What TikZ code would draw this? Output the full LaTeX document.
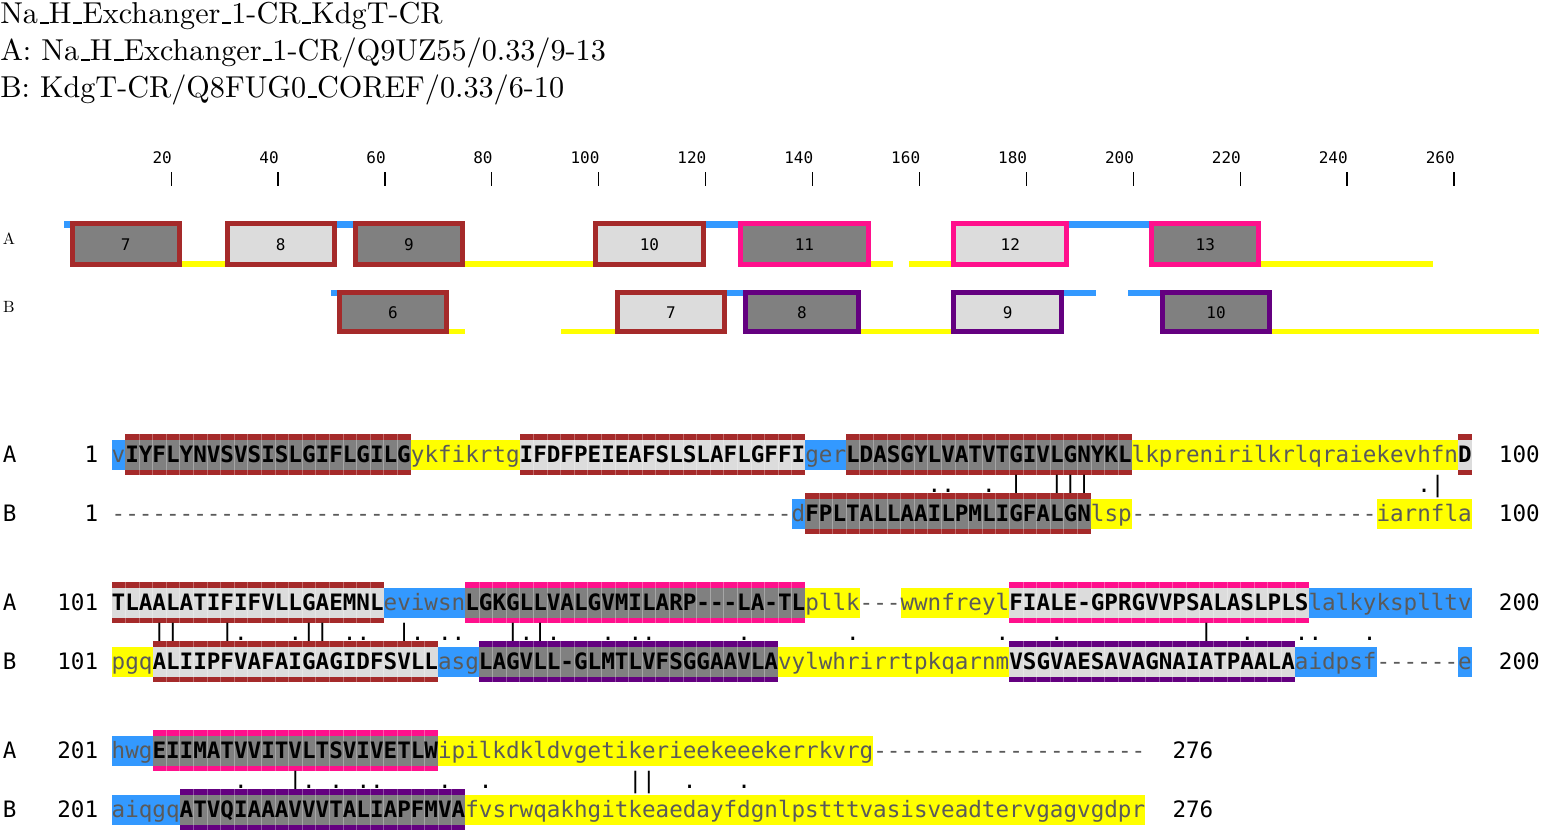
\documentclass[tikz,border=0pt]{standalone}
\usepackage{fontspec}
\newfontfamily\monof{DejaVu Sans Mono}
\newfontfamily\cmfont{lmroman10-regular.otf}
\definecolor{tmbrown}{RGB}{165,42,42}
\definecolor{tmpink}{RGB}{255,16,140}
\definecolor{tmpurple}{RGB}{100,0,128}
\definecolor{hlblue}{RGB}{51,153,255}
\definecolor{hlyellow}{RGB}{255,255,0}
\definecolor{tmdark}{RGB}{128,128,128}
\definecolor{tmlight}{RGB}{220,220,220}
\definecolor{lowtxt}{RGB}{90,90,90}
\newcommand\mfont{\monof\fontsize{16.94pt}{20pt}\selectfont}
\newcommand\us{\leavevmode\kern.06em\vbox{\hrule height .06em width .3em}}
\newcommand\dashes[1]{\ifnum#1>0 \hbox{-}\expandafter\dashes\expandafter{\the\numexpr#1-1\relax}\fi}
\tikzset{
  seqbase/.style={inner sep=0pt, outer sep=0pt, anchor=base west},
  lowseq/.style={seqbase, font=\mfont, text=lowtxt},
  capseq/.style={seqbase, font=\mfont\bfseries, text=black},
  markt/.style={seqbase, font=\mfont, text=black},
  numt/.style={inner sep=0pt, outer sep=0pt, font=\mfont, text=black},
  rulnum/.style={inner sep=0pt, font=\monof\fontsize{12pt}{14pt}\selectfont, anchor=base east},
  tmnum/.style={inner sep=0pt, font=\monof\fontsize{12pt}{14pt}\selectfont},
  trlab/.style={inner sep=0pt, font=\cmfont\fontsize{12.2pt}{14pt}\selectfont},
  ttl/.style={inner sep=0pt, anchor=base west, font=\cmfont\fontsize{22.65pt}{27pt}\selectfont},
  cellline/.style={draw=white, draw opacity=0.3, line width=0.45pt},
  tickl/.style={line width=0.9pt},
}
% alignment segments: name, yc, idx, len, colour, text
\newcommand\hlseg[6]{%
  \fill[#5] ({111.7+13.6*#3},{#2-15}) rectangle ({111.7+13.6*(#3+#4)},{#2+15});
  \node[lowseq] (#1) at ({111.7+13.6*#3},{#2+7.5}) {#6};}
% name, yc, idx, len, fill, band, text
\newcommand\tmseg[7]{%
  \fill[#6] ({111.7+13.6*#3},{#2-20.5}) rectangle ({111.7+13.6*(#3+#4)},{#2+20.5});
  \fill[#5] ({111.7+13.6*#3},{#2-15}) rectangle ({111.7+13.6*(#3+#4)},{#2+15});
  \ifnum#4>1\relax
    \pgfmathtruncatemacro\lastk{#4-1}
    \foreach \k in {1,...,\lastk}{\draw[cellline] ({111.7+13.6*(#3+\k)},{#2-20.5}) -- ({111.7+13.6*(#3+\k)},{#2+20.5});}
  \fi
  \node[capseq] (#1) at ({111.7+13.6*#3},{#2+7.5}) {#7};}
\newcommand\plseg[4]{\node[lowseq] (#1) at ({111.7+13.6*#3},{#2+7.5}) {#4};}
\newcommand\simmarks[3]{\foreach \i/\mk in {#3}{\node[markt] (#1\i) at ({111.7+13.6*\i},#2) {\mk};}}
% top track: from col, to col, y1, y2, colour
\newcommand\tbar[5]{\fill[#5] ({64.2+5.345*(#1-1)},#3) rectangle ({64.2+5.345*#2},#4);}
% name, from, to, ytop, ybot, fill, border, label
\newcommand\tbox[8]{%
  \draw[draw=#7, fill=#6, line width=3.75pt] ({64.2+5.345*(#2-1)+2.5},{#4+2.5}) rectangle ({64.2+5.345*#3-2.5},{#5-2.5});
  \node[tmnum] (#1) at ({64.2+5.345*((#2-1)+#3)/2},{(#4+#5)/2+1}) {#8};}
\begin{document}
\begin{tikzpicture}[x=0.75pt,y=-0.75pt]
\useasboundingbox (0,0) rectangle (1542,833);
% title
\node[ttl] (t1) at (0,23.5) {Na\us H\us Exchanger\us 1-CR\us KdgT-CR};
\node[ttl] (t2) at (0,60.5) {A: Na\us H\us Exchanger\us 1-CR/Q9UZ55/0.33/9-13};
\node[ttl] (t3) at (0,97.5) {B: KdgT-CR/Q8FUG0\us COREF/0.33/6-10};
% ruler
\foreach \p in {20,40,...,260}{
  \draw[tickl] ({64.2+5.345*\p},172) -- ({64.2+5.345*\p},186);
  \node[rulnum] (r\p) at ({64.2+5.345*\p+1},163) {\p};
}
% track labels
\node[trlab] (trA) at (9,238.5) {A};
\node[trlab] (trB) at (9,306.5) {B};
% track A
\tbar{1}{1}{221}{227.5}{hlblue}
\tbar{52}{54}{221}{227.5}{hlblue}
\tbar{121}{126}{221}{227.5}{hlblue}
\tbar{189}{203}{221}{227.5}{hlblue}
\tbar{23}{30}{260.5}{267}{hlyellow}
\tbar{76}{99}{260.5}{267}{hlyellow}
\tbar{152}{155}{260.5}{267}{hlyellow}
\tbar{159}{166}{260.5}{267}{hlyellow}
\tbar{225}{256}{260.5}{267}{hlyellow}
\tbox{tA7}{2}{22}{221}{267}{tmdark}{tmbrown}{7}
\tbox{tA8}{31}{51}{221}{267}{tmlight}{tmbrown}{8}
\tbox{tA9}{55}{75}{221}{267}{tmdark}{tmbrown}{9}
\tbox{tA10}{100}{120}{221}{267}{tmlight}{tmbrown}{10}
\tbox{tA11}{127}{151}{221}{267}{tmdark}{tmpink}{11}
\tbox{tA12}{167}{188}{221}{267}{tmlight}{tmpink}{12}
\tbox{tA13}{204}{224}{221}{267}{tmdark}{tmpink}{13}
% track B
\tbar{51}{51}{290}{295.5}{hlblue}
\tbar{125}{127}{290}{295.5}{hlblue}
\tbar{188}{193}{290}{295.5}{hlblue}
\tbar{200}{205}{290}{295.5}{hlblue}
\tbar{73}{75}{328.5}{334}{hlyellow}
\tbar{94}{103}{328.5}{334}{hlyellow}
\tbar{150}{166}{328.5}{334}{hlyellow}
\tbar{227}{276}{328.5}{334}{hlyellow}
\tbox{tB6}{52}{72}{290}{334}{tmdark}{tmbrown}{6}
\tbox{tB7}{104}{124}{290}{334}{tmlight}{tmbrown}{7}
\tbox{tB8}{128}{149}{290}{334}{tmdark}{tmpurple}{8}
\tbox{tB9}{167}{187}{290}{334}{tmlight}{tmpurple}{9}
\tbox{tB10}{206}{226}{290}{334}{tmdark}{tmpurple}{10}
% ---------- alignment row 1
\node[numt, anchor=base west] (la1) at ({111.7-13.6*8},462) {A};
\node[numt, anchor=base east] (na1) at ({111.7-13.6},462) {1};
\node[numt, anchor=base west] (ea1) at ({111.7+13.6*102},462) {100};
\hlseg{a1s1}{454.5}{0}{1}{hlblue}{v}
\tmseg{a1s2}{454.5}{1}{21}{tmdark}{tmbrown}{IYFLYNVSVSISLGIFLGILG}
\hlseg{a1s3}{454.5}{22}{8}{hlyellow}{ykfikrtg}
\tmseg{a1s4}{454.5}{30}{21}{tmlight}{tmbrown}{IFDFPEIEAFSLSLAFLGFFI}
\hlseg{a1s5}{454.5}{51}{3}{hlblue}{ger}
\tmseg{a1s6}{454.5}{54}{21}{tmdark}{tmbrown}{LDASGYLVATVTGIVLGNYKL}
\hlseg{a1s7}{454.5}{75}{24}{hlyellow}{lkprenirilkrlqraiekevhfn}
\tmseg{a1s8}{454.5}{99}{1}{tmlight}{tmbrown}{D}
\simmarks{mA}{492}{60/., 61/., 64/., 66/|, 69/|, 70/|, 71/|, 96/., 97/|}
\node[numt, anchor=base west] (lb1) at ({111.7-13.6*8},521) {B};
\node[numt, anchor=base east] (nb1) at ({111.7-13.6},521) {1};
\node[numt, anchor=base west] (eb1) at ({111.7+13.6*102},521) {100};
\plseg{b1s1}{513.5}{0}{\dashes{50}}
\hlseg{b1s2}{513.5}{50}{1}{hlblue}{d}
\tmseg{b1s3}{513.5}{51}{21}{tmdark}{tmbrown}{FPLTALLAAILPMLIGFALGN}
\hlseg{b1s4}{513.5}{72}{3}{hlyellow}{lsp}
\plseg{b1s5}{513.5}{75}{\dashes{18}}
\hlseg{b1s6}{513.5}{93}{7}{hlyellow}{iarnfla}
% ---------- alignment row 2
\node[numt, anchor=base west] (la2) at ({111.7-13.6*8},610) {A};
\node[numt, anchor=base east] (na2) at ({111.7-13.6},610) {101};
\node[numt, anchor=base west] (ea2) at ({111.7+13.6*102},610) {200};
\tmseg{a2s1}{602.5}{0}{20}{tmlight}{tmbrown}{TLAALATIFIFVLLGAEMNL}
\hlseg{a2s2}{602.5}{20}{6}{hlblue}{eviwsn}
\tmseg{a2s3}{602.5}{26}{25}{tmdark}{tmpink}{LGKGLLVALGVMILARP\dashes{3}LA\dashes{1}TL}
\hlseg{a2s4}{602.5}{51}{4}{hlyellow}{pllk}
\plseg{a2s5}{602.5}{55}{\dashes{3}}
\hlseg{a2s6}{602.5}{58}{8}{hlyellow}{wwnfreyl}
\tmseg{a2s7}{602.5}{66}{22}{tmlight}{tmpink}{FIALE-GPRGVVPSALASLPLS}
\hlseg{a2s8}{602.5}{88}{12}{hlblue}{lalkyksplltv}
\simmarks{mB}{640}{3/|,4/|,8/|,9/.,13/.,14/|,15/|,17/.,18/.,21/|,22/.,24/.,25/.,29/|,30/.,31/|,32/.,36/.,38/.,39/.,46/.,54/.,65/.,69/.,80/|,83/.,87/.,88/.,92/.}
\node[numt, anchor=base west] (lb2) at ({111.7-13.6*8},669) {B};
\node[numt, anchor=base east] (nb2) at ({111.7-13.6},669) {101};
\node[numt, anchor=base west] (eb2) at ({111.7+13.6*102},669) {200};
\hlseg{b2s1}{661.5}{0}{3}{hlyellow}{pgq}
\tmseg{b2s2}{661.5}{3}{21}{tmlight}{tmbrown}{ALIIPFVAFAIGAGIDFSVLL}
\hlseg{b2s3}{661.5}{24}{3}{hlblue}{asg}
\tmseg{b2s4}{661.5}{27}{22}{tmdark}{tmpurple}{LAGVLL-GLMTLVFSGGAAVLA}
\hlseg{b2s5}{661.5}{49}{17}{hlyellow}{vylwhrirrtpkqarnm}
\tmseg{b2s6}{661.5}{66}{21}{tmlight}{tmpurple}{VSGVAESAVAGNAIATPAALA}
\hlseg{b2s7}{661.5}{87}{6}{hlblue}{aidpsf}
\plseg{b2s8}{661.5}{93}{\dashes{6}}
\hlseg{b2s9}{661.5}{99}{1}{hlblue}{e}
% ---------- alignment row 3
\node[numt, anchor=base west] (la3) at ({111.7-13.6*8},758) {A};
\node[numt, anchor=base east] (na3) at ({111.7-13.6},758) {201};
\node[numt, anchor=base west] (ea3) at ({111.7+13.6*78},758) {276};
\hlseg{a3s1}{750.5}{0}{3}{hlblue}{hwg}
\tmseg{a3s2}{750.5}{3}{21}{tmdark}{tmpink}{EIIMATVVITVLTSVIVETLW}
\hlseg{a3s3}{750.5}{24}{32}{hlyellow}{ipilkdkldvgetikerieekeeekerrkvrg}
\plseg{a3s4}{750.5}{56}{\dashes{20}}
\simmarks{mC}{788}{9/.,13/|,14/.,16/.,18/.,19/.,24/.,27/.,38/|,39/|,42/.,46/.}
\node[numt, anchor=base west] (lb3) at ({111.7-13.6*8},817) {B};
\node[numt, anchor=base east] (nb3) at ({111.7-13.6},817) {201};
\node[numt, anchor=base west] (eb3) at ({111.7+13.6*78},817) {276};
\hlseg{b3s1}{809.5}{0}{5}{hlblue}{aiqgq}
\tmseg{b3s2}{809.5}{5}{21}{tmdark}{tmpurple}{ATVQIAAAVVVTALIAPFMVA}
\hlseg{b3s3}{809.5}{26}{50}{hlyellow}{fvsrwqakhgitkeaedayfdgnlpstttvasisveadtervgagvgdpr}
\end{tikzpicture}
\end{document}
